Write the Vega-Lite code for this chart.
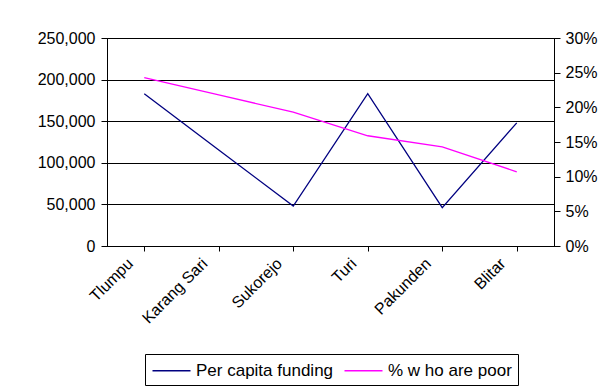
{
  "$schema": "https://vega.github.io/schema/vega-lite/v6.json",
  "width": 447,
  "height": 208,
  "autosize": {"type": "none"},
  "padding": {"left": 107, "top": 38, "right": 54, "bottom": 145},
  "background": "white",
  "data": {
    "values": [
      {"village": "Tlumpu", "funding": 183000, "poor": 0.243},
      {"village": "Karang Sari", "funding": 115500, "poor": 0.218},
      {"village": "Sukorejo", "funding": 48000, "poor": 0.193},
      {"village": "Turi", "funding": 183000, "poor": 0.159},
      {"village": "Pakunden", "funding": 46000, "poor": 0.143},
      {"village": "Blitar", "funding": 148000, "poor": 0.107}
    ]
  },
  "encoding": {
    "x": {
      "field": "village",
      "type": "nominal",
      "sort": null,
      "scale": {"paddingInner": 0, "paddingOuter": 0},
      "axis": {
        "title": null,
        "bandPosition": 0,
        "labelAngle": -45,
        "labelAlign": "right",
        "labelBaseline": "top",
        "labelOffset": -20,
        "labelPadding": 4,
        "tickSize": 5,
        "tickColor": "black",
        "domainColor": "black",
        "labelFont": "Liberation Sans",
        "labelFontSize": 16,
        "labelColor": "black"
      }
    }
  },
  "layer": [
    {
      "mark": {"type": "line", "strokeWidth": 1.3},
      "encoding": {
        "y": {
          "field": "funding",
          "type": "quantitative",
          "scale": {"domain": [0, 250000], "nice": false},
          "axis": {
            "title": null,
            "orient": "left",
            "values": [0, 50000, 100000, 150000, 200000, 250000],
            "format": ",d",
            "grid": true,
            "gridColor": "black",
            "gridOpacity": 1,
            "tickSize": 6,
            "tickColor": "black",
            "domainColor": "black",
            "labelPadding": 6,
            "labelFont": "Liberation Sans",
            "labelFontSize": 16,
            "labelColor": "black"
          }
        },
        "color": {
          "datum": "Per capita funding",
          "scale": {"domain": ["Per capita funding", "% w ho are poor"], "range": ["#000080", "#FF00FF"]},
          "legend": {
            "title": null,
            "orient": "none",
            "legendX": 38,
            "legendY": 316,
            "direction": "horizontal",
            "strokeColor": "black",
            "padding": 6,
            "symbolType": "M-2,0H2",
            "symbolSize": 361,
            "symbolStrokeWidth": 1.3,
            "symbolOffset": 10,
            "labelOffset": 14,
            "labelFont": "Liberation Sans",
            "labelFontSize": 17,
            "labelColor": "black",
            "columnPadding": 7
          }
        }
      }
    },
    {
      "mark": {"type": "line", "strokeWidth": 1.3},
      "encoding": {
        "y": {
          "field": "poor",
          "type": "quantitative",
          "scale": {"domain": [0, 0.3], "nice": false},
          "axis": {
            "title": null,
            "orient": "right",
            "values": [0, 0.05, 0.1, 0.15, 0.2, 0.25, 0.3],
            "format": ".0%",
            "grid": false,
            "tickSize": 6,
            "tickColor": "black",
            "domainColor": "black",
            "labelPadding": 5,
            "labelFont": "Liberation Sans",
            "labelFontSize": 16,
            "labelColor": "black"
          }
        },
        "color": {"datum": "% w ho are poor"}
      }
    }
  ],
  "resolve": {"scale": {"y": "independent"}},
  "config": {"view": {"stroke": "black"}}
}
